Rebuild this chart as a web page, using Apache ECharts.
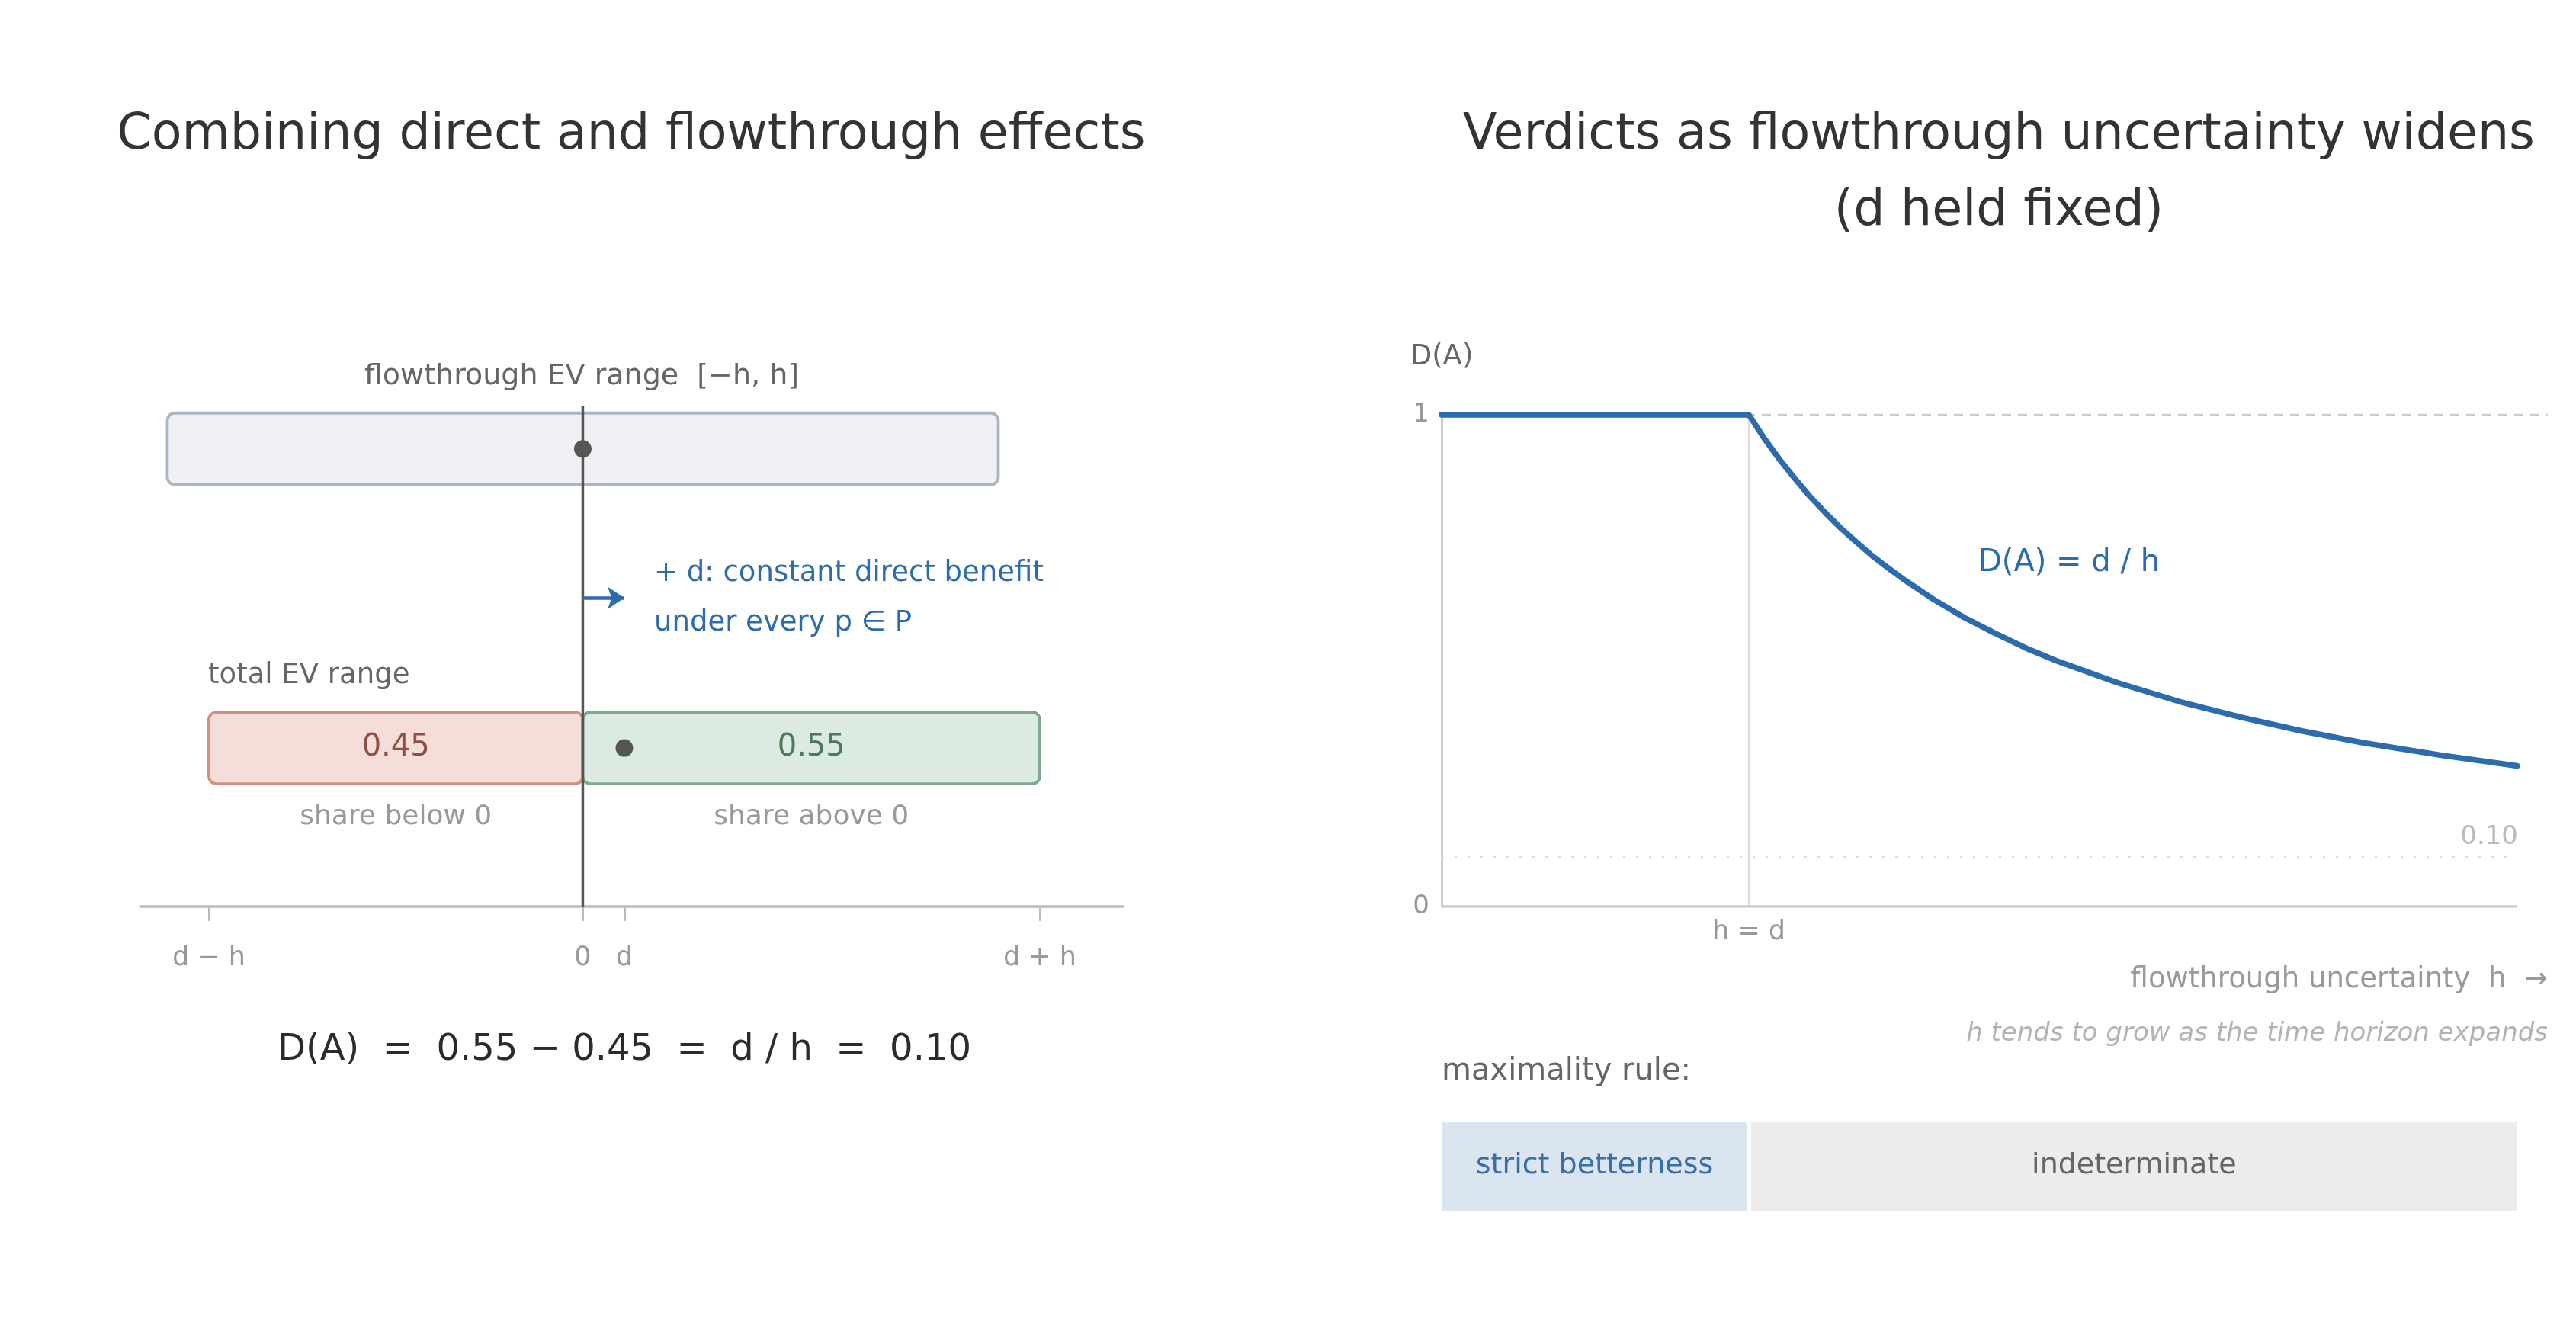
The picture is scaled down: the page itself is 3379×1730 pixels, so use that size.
<!DOCTYPE html>
<html>
<head>
<meta charset="utf-8">
<style>
  html, body { margin: 0; padding: 0; background: #fff; }
  #main { width: 3379px; height: 1730px; }
</style>
<script src="https://cdn.jsdelivr.net/npm/echarts@6/dist/echarts.min.js"></script>
</head>
<body>
<div id="main"></div>
<script>
// left panel: d = 0.1, h = 1
const flowRange = [-1, 1];          // [-h, h]
const totalRange = [-0.9, 1.1];     // [d - h, d + h]
const directBenefit = 0.1;          // d
const shares = [0.45, 0.55];        // below 0, above 0
const shareNames = ['share below 0', 'share above 0'];
const leftTicks = [-0.9, 0, 0.1, 1.1];
const leftTickLabels = ['d \u2212 h', '0', 'd', 'd + h'];

// right panel: D(A) read along h (d = 1)
const hVals = [0, 1, 1.05, 1.1, 1.15, 1.2, 1.25, 1.3, 1.35, 1.4, 1.45, 1.5, 1.6, 1.7, 1.8, 1.9, 2.0,
  2.2, 2.4, 2.6, 2.8, 3.0, 3.25, 3.5];
const dVals = [1, 1, 0.952, 0.909, 0.870, 0.833, 0.800, 0.769, 0.741, 0.714, 0.690, 0.667, 0.625, 0.588,
  0.556, 0.526, 0.500, 0.455, 0.417, 0.385, 0.357, 0.333, 0.308, 0.286];
const bandEdges = [0, 1, 3.5];
const bandNames = ['strict betterness', 'indeterminate'];
const floorValue = 0.10;

const FONT = 'DejaVu Sans';
const BLUE = '#2c6cad';
const ROW_TOP = 0.915, ROW_TOTAL = 0.317, ROW_ARROW = 0.617;

let chart = echarts.init(document.getElementById('main'));

const boxStyles = [
  { fill: '#eff1f4', stroke: '#a9b7c5', text: '#666' },
  { fill: '#f5ded9', stroke: '#d3917f', text: '#8c5044' },
  { fill: '#dcebe1', stroke: '#7caa8b', text: '#4b7b5b' }
];
const boxData = [
  [flowRange[0], flowRange[1], ROW_TOP, '', ''],
  [totalRange[0], 0, ROW_TOTAL, shares[0].toFixed(2), shareNames[0]],
  [0, totalRange[1], ROW_TOTAL, shares[1].toFixed(2), shareNames[1]]
];

function renderBox(params, api) {
  const i = params.dataIndex;
  const b = boxData[i];
  const p0 = api.coord([b[0], b[2]]);
  const p1 = api.coord([b[1], b[2]]);
  const st = boxStyles[i];
  const cx = (p0[0] + p1[0]) / 2;
  return {
    type: 'group',
    children: [
      { type: 'rect', shape: { x: p0[0], y: p0[1] - 47, width: p1[0] - p0[0], height: 94, r: 10 },
        style: { fill: st.fill, stroke: st.stroke, lineWidth: 3.8 } },
      { type: 'text', style: { text: b[3], x: cx, y: p0[1], align: 'center', verticalAlign: 'middle',
        fill: st.text, fontSize: 40, fontFamily: FONT } },
      { type: 'text', style: { text: b[4], x: cx, y: p0[1] + 91, align: 'center', verticalAlign: 'middle',
        fill: '#999', fontSize: 36, fontFamily: FONT } }
    ]
  };
}

const bandData = bandNames.map((n, i) => [bandEdges[i], bandEdges[i + 1], n]);
const bandFill = ['#dbe5f0', '#ececec'];
const bandText = ['#3a6ea6', '#666'];

function renderBand(params, api) {
  const i = params.dataIndex;
  const b = bandData[i];
  const p0 = api.coord([b[0], 1]);
  const p1 = api.coord([b[1], 0]);
  const x0 = p0[0] + (i > 0 ? 3 : 0);
  const x1 = p1[0] - (i < bandData.length - 1 ? 2 : 0);
  return {
    type: 'group',
    children: [
      { type: 'rect', shape: { x: x0, y: p0[1], width: x1 - x0, height: p1[1] - p0[1] },
        style: { fill: bandFill[i] } },
      { type: 'text', style: { text: b[2], x: (x0 + x1) / 2, y: (p0[1] + p1[1]) / 2, align: 'center',
        verticalAlign: 'middle', fill: bandText[i], fontSize: 38, fontFamily: FONT } }
    ]
  };
}

function txt(text, x, y, size, color, align, extra) {
  return {
    type: 'text', x: x, y: y,
    style: Object.assign({ text: text, fill: color, fontSize: size, fontFamily: FONT,
      align: align || 'left', verticalAlign: 'middle' }, extra || {})
  };
}

const formula = 'D(A)  =  ' + shares[1].toFixed(2) + ' \u2212 ' + shares[0].toFixed(2) +
  '  =  d / h  =  ' + (shares[1] - shares[0]).toFixed(2);

const curve = hVals.map((x, i) => [x, dVals[i]]);

chart.setOption({
  animation: false,
  textStyle: { fontFamily: FONT },
  title: [
    { text: 'Combining direct and flowthrough effects', left: 823, top: 123, textAlign: 'center',
      textStyle: { fontSize: 65, fontWeight: 'normal', color: '#333', fontFamily: FONT, lineHeight: 100 } },
    { text: 'Verdicts as flowthrough uncertainty widens\n(d held fixed)', left: 2617, top: 123, textAlign: 'center',
      textStyle: { fontSize: 65, fontWeight: 'normal', color: '#333', fontFamily: FONT, lineHeight: 100 } }
  ],
  grid: [
    { left: 184, top: 533, width: 1289, height: 656 },
    { left: 1891, top: 544, width: 1451, height: 645 },
    { left: 1891, top: 1471, width: 1451, height: 117 }
  ],
  xAxis: [
    { gridIndex: 0, type: 'value', min: -1.065, max: 1.3,
      axisLine: { show: true, onZero: false, lineStyle: { color: '#bbb', width: 3.5 } },
      axisTick: { show: true, customValues: leftTicks, length: 19, lineStyle: { color: '#bbb', width: 3 } },
      axisLabel: { customValues: leftTicks, margin: 50, color: '#999', fontSize: 35,
        formatter: v => leftTickLabels[leftTicks.findIndex(t => Math.abs(t - v) < 1e-9)] },
      splitLine: { show: false } },
    { gridIndex: 1, type: 'value', min: 0, max: 3.6,
      axisLine: { show: false }, axisTick: { show: false }, splitLine: { show: false },
      axisLabel: { customValues: [bandEdges[1]], margin: 16, color: '#999', fontSize: 35,
        formatter: () => 'h = d' } },
    { gridIndex: 2, type: 'value', min: 0, max: 3.6, show: false }
  ],
  yAxis: [
    { gridIndex: 0, type: 'value', min: 0, max: 1, show: false },
    { gridIndex: 1, type: 'value', min: 0, max: 1, interval: 1,
      axisLine: { show: true, lineStyle: { color: '#ccc', width: 3 } },
      axisTick: { show: false }, splitLine: { show: false },
      axisLabel: { margin: 16, color: '#999', fontSize: 34 } },
    { gridIndex: 2, type: 'value', min: 0, max: 1, show: false }
  ],
  series: [
    { type: 'custom', xAxisIndex: 0, yAxisIndex: 0, renderItem: renderBox, data: boxData, z: 2 },
    { type: 'line', xAxisIndex: 0, yAxisIndex: 0, data: [[0, 0], [0, 1]], showSymbol: false, z: 3,
      lineStyle: { color: '#555', width: 3.5 },
      markLine: { silent: true, symbol: ['none', 'arrow'], symbolSize: [22, 22], label: { show: false },
        lineStyle: { color: BLUE, width: 4.5, type: 'solid' },
        data: [[{ coord: [0, ROW_ARROW] }, { coord: [directBenefit, ROW_ARROW] }]] } },
    { type: 'scatter', xAxisIndex: 0, yAxisIndex: 0, symbolSize: 23, z: 4,
      itemStyle: { color: '#555', opacity: 1 },
      data: [[(flowRange[0] + flowRange[1]) / 2, ROW_TOP], [directBenefit, ROW_TOTAL]] },

    { type: 'line', xAxisIndex: 1, yAxisIndex: 1, data: [[0, 1], [3.6, 1]], showSymbol: false, z: 1,
      lineStyle: { color: '#ccc', width: 3, type: [12, 9] } },
    { type: 'line', xAxisIndex: 1, yAxisIndex: 1, data: [[0, floorValue], [bandEdges[2], floorValue]], showSymbol: false, z: 1,
      lineStyle: { color: '#ddd', width: 3, type: [3, 14] } },
    { type: 'line', xAxisIndex: 1, yAxisIndex: 1, data: [[bandEdges[1], 0], [bandEdges[1], 1]], showSymbol: false, z: 1,
      lineStyle: { color: '#ddd', width: 2.5 } },
    { type: 'line', xAxisIndex: 1, yAxisIndex: 1, data: [[0, 0], [bandEdges[2], 0]], showSymbol: false, z: 1,
      lineStyle: { color: '#ccc', width: 3.5 } },
    { type: 'line', xAxisIndex: 1, yAxisIndex: 1, data: curve, showSymbol: false, z: 3,
      lineStyle: { color: BLUE, width: 7.5, cap: 'round', join: 'round' } },

    { type: 'custom', xAxisIndex: 2, yAxisIndex: 2, renderItem: renderBand, data: bandData }
  ],
  graphic: [
    txt('flowthrough EV range  [\u2212h, h]', 763, 494, 38, '#666', 'center'),
    txt('+ d: constant direct benefit', 858, 752, 37, BLUE),
    txt('under every p \u2208 P', 858, 817, 37, BLUE),
    txt('total EV range', 273, 886, 37, '#666'),
    txt(formula, 819, 1378, 48, '#2b2b2b', 'center'),
    txt('D(A)', 1891, 468, 37, '#666', 'center'),
    txt('D(A) = d / h', 2714, 739, 40, BLUE, 'center'),
    txt(floorValue.toFixed(2), 3303, 1098, 34, '#bbb', 'right'),
    txt('flowthrough uncertainty  h  \u2192', 3342, 1285, 37, '#999', 'right'),
    txt('h tends to grow as the time horizon expands', 3342, 1356, 34, '#b3b3b3', 'right', { fontStyle: 'italic' }),
    txt('maximality rule:', 1891, 1406, 40, '#666')
  ]
});
</script>
</body>
</html>
